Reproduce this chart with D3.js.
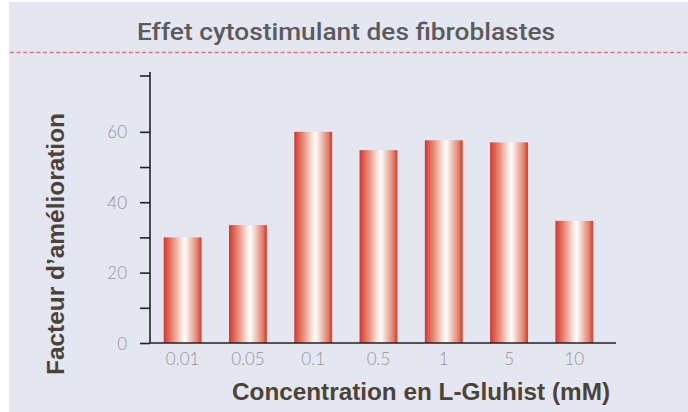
<!DOCTYPE html>
<html>
<head>
<meta charset="utf-8">
<script src="https://cdn.jsdelivr.net/npm/d3@7"></script>
<style>
  body { margin: 0; background: #ffffff; }
  svg { display: block; }
</style>
</head>
<body>
<div id="chart"></div>
<script>
// data
var concentrations = ["0.01", "0.05", "0.1", "0.5", "1", "5", "10"];
var facteur = [30, 33.5, 60, 54.8, 57.6, 57, 34.7];
var yTicks = [0, 10, 20, 30, 40, 50, 60, 76];
var yLabels = [0, 20, 40, 60];

var W = 688, H = 412;
var margin = {top: 72, right: 81, bottom: 69, left: 150};

var svg = d3.select("#chart")
    .append("svg")
    .attr("width", W)
    .attr("height", H);

// gradient for the cylinder look of bars
var grad = svg.append("defs").append("linearGradient")
    .attr("id", "barGrad")
    .attr("x1", "0%").attr("x2", "100%")
    .attr("y1", "0%").attr("y2", "0%");
[["0%", "#d4322a"], ["6%", "#dc4c3f"], ["25%", "#e8907e"], ["45%", "#f8ddd4"],
 ["56%", "#ffffff"], ["72%", "#f0c3b6"], ["90%", "#e27a68"], ["96%", "#da4d3e"], ["100%", "#d8452f"]]
  .forEach(function(s) {
    grad.append("stop").attr("offset", s[0]).attr("stop-color", s[1]);
  });

// panel background
svg.append("rect")
    .attr("x", 9).attr("y", 2)
    .attr("width", W - 9).attr("height", H - 2)
    .attr("fill", "#e4e7f1");

// title + dashed rule
svg.append("text")
    .attr("x", 346).attr("y", 40)
    .attr("text-anchor", "middle")
    .attr("font-family", "Roboto")
    .attr("font-weight", 500)
    .attr("font-size", 23)
    .attr("fill", "#5a5b5d")
    .attr("textLength", 418)
    .attr("lengthAdjust", "spacingAndGlyphs")
    .text("Effet cytostimulant des fibroblastes");

svg.append("line")
    .attr("x1", 10).attr("x2", W)
    .attr("y1", 52.5).attr("y2", 52.5)
    .attr("stroke", "#ee6f6f")
    .attr("stroke-width", 1.3)
    .attr("stroke-dasharray", "4,2.6");

var x = d3.scaleBand()
    .domain(concentrations)
    .range([margin.left, 607])
    .paddingInner(0.42)
    .paddingOuter(0.21);

var y = d3.scaleLinear()
    .domain([0, 77])
    .range([343, margin.top]);

// bars
svg.append("g")
    .selectAll("rect")
    .data(facteur)
    .join("rect")
        .attr("x", (d, i) => x(concentrations[i]))
        .attr("y", d => y(d))
        .attr("width", x.bandwidth())
        .attr("height", d => y(0) - y(d))
        .attr("fill", "url(#barGrad)");

// y axis
var yAxisG = svg.append("g")
    .attr("transform", "translate(" + margin.left + ",0)")
    .call(d3.axisLeft(y)
        .tickValues(yTicks)
        .tickSize(10)
        .tickFormat(d => yLabels.indexOf(d) >= 0 ? d : ""));
yAxisG.select(".domain")
    .attr("d", "M0," + y(77) + "V" + y(0))
    .attr("stroke", "#222").attr("stroke-width", 1.6);
yAxisG.selectAll(".tick line").attr("stroke", "#222").attr("stroke-width", 1.6);
yAxisG.selectAll(".tick text")
    .attr("x", -23)
    .attr("dy", "0.36em")
    .attr("font-family", "Lato")
    .attr("font-weight", 300)
    .attr("font-size", 17)
    .attr("fill", "#949494");

// x axis
var xAxisG = svg.append("g")
    .attr("transform", "translate(0," + y(0) + ")")
    .call(d3.axisBottom(x).tickSize(0).tickPadding(8));
xAxisG.select(".domain")
    .attr("d", "M" + margin.left + ",0H616")
    .attr("stroke", "#222").attr("stroke-width", 1.6);
xAxisG.selectAll(".tick text")
    .attr("dy", "0.75em")
    .attr("y", 9)
    .attr("font-family", "Lato")
    .attr("font-weight", 300)
    .attr("font-size", 17)
    .attr("fill", "#949494");

// axis titles
svg.append("text")
    .attr("x", 421).attr("y", 400)
    .attr("text-anchor", "middle")
    .attr("font-family", "Liberation Sans")
    .attr("font-weight", 700)
    .attr("font-size", 23)
    .attr("fill", "#4b4337")
    .attr("textLength", 378)
    .attr("lengthAdjust", "spacingAndGlyphs")
    .text("Concentration en L-Gluhist (mM)");

svg.append("text")
    .attr("transform", "translate(64,244) rotate(-90)")
    .attr("text-anchor", "middle")
    .attr("font-family", "Liberation Sans")
    .attr("font-weight", 700)
    .attr("font-size", 23)
    .attr("fill", "#4b4337")
    .attr("textLength", 262)
    .attr("lengthAdjust", "spacingAndGlyphs")
    .text("Facteur d’amélioration");
</script>
</body>
</html>
